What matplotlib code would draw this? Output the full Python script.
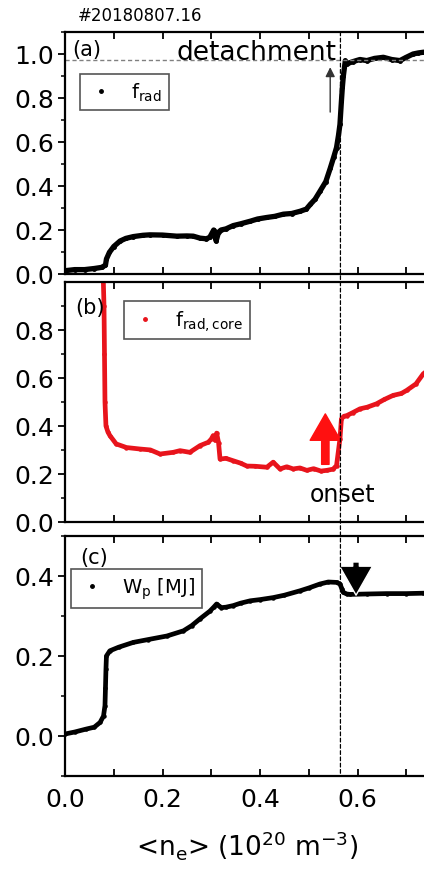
import numpy as np
import matplotlib.pyplot as plt
from matplotlib.lines import Line2D
from matplotlib.patches import ConnectionPatch
from matplotlib.ticker import MultipleLocator, FixedLocator

plt.rcParams['font.family'] = ['DejaVu Sans']

# panel (a): f_rad
xa = [0.0, 0.02, 0.04, 0.06, 0.075, 0.083, 0.085, 0.091, 0.10, 0.113, 0.125, 0.14, 0.16, 0.174,
      0.2, 0.229, 0.25, 0.263, 0.277, 0.29, 0.297, 0.305, 0.31, 0.315, 0.32, 0.33, 0.345, 0.36,
      0.38, 0.395, 0.414, 0.43, 0.448, 0.465, 0.482, 0.495, 0.503, 0.513, 0.523, 0.535, 0.544,
      0.551, 0.557, 0.561, 0.564, 0.567, 0.569, 0.571, 0.575, 0.578, 0.59, 0.605, 0.619, 0.635,
      0.653, 0.67, 0.687, 0.7, 0.714, 0.725, 0.735, 0.75]
ya = [0.015, 0.02, 0.02, 0.025, 0.03, 0.04, 0.068, 0.098, 0.125, 0.15, 0.162, 0.17, 0.176, 0.178,
      0.177, 0.172, 0.173, 0.172, 0.163, 0.16, 0.167, 0.2, 0.15, 0.19, 0.2, 0.205, 0.22, 0.228,
      0.24, 0.25, 0.257, 0.262, 0.272, 0.275, 0.285, 0.295, 0.316, 0.34, 0.376, 0.42, 0.48,
      0.53, 0.575, 0.63, 0.68, 0.785, 0.85, 0.9, 0.97, 0.955, 0.965, 0.975, 0.97, 0.98,
      0.985, 0.975, 0.97, 0.985, 1.0, 1.005, 1.008, 1.01]

# panel (b): f_rad,core
xb = [0.078, 0.080, 0.081, 0.082, 0.084, 0.088, 0.092, 0.105, 0.126, 0.153, 0.175, 0.195, 0.222,
      0.236, 0.256, 0.277, 0.294, 0.300, 0.304, 0.308, 0.311, 0.315, 0.318, 0.33, 0.345, 0.36,
      0.373, 0.39, 0.414, 0.427, 0.441, 0.455, 0.468, 0.482, 0.496, 0.51, 0.525, 0.537, 0.55,
      0.557, 0.564, 0.567, 0.572, 0.578, 0.59, 0.605, 0.62, 0.639, 0.655, 0.673, 0.69, 0.701,
      0.72, 0.735, 0.75]
yb = [1.05, 0.9, 0.7, 0.5, 0.4, 0.375, 0.36, 0.325, 0.31, 0.304, 0.3, 0.283, 0.29,
      0.297, 0.29, 0.318, 0.332, 0.345, 0.36, 0.34, 0.37, 0.33, 0.262, 0.265, 0.255, 0.245,
      0.233, 0.232, 0.228, 0.249, 0.221, 0.23, 0.221, 0.225, 0.215, 0.222, 0.212, 0.215, 0.22,
      0.235, 0.346, 0.429, 0.44, 0.443, 0.455, 0.471, 0.478, 0.492, 0.51, 0.527, 0.535, 0.548,
      0.575, 0.617, 0.64]

# panel (c): W_p [MJ]
xc = [0.0, 0.02, 0.044, 0.06, 0.072, 0.079, 0.082, 0.083, 0.084, 0.085, 0.092, 0.11, 0.14,
      0.17, 0.209, 0.243, 0.26, 0.277, 0.297, 0.305, 0.311, 0.316, 0.321, 0.33, 0.345, 0.36,
      0.38, 0.4, 0.427, 0.45, 0.482, 0.5, 0.523, 0.54, 0.557, 0.564, 0.568, 0.571, 0.578,
      0.585, 0.619, 0.66, 0.7, 0.735, 0.75]
yc = [0.005, 0.01, 0.0175, 0.022, 0.034, 0.05, 0.076, 0.12, 0.167, 0.2, 0.213, 0.222, 0.234,
      0.241, 0.25, 0.263, 0.276, 0.293, 0.312, 0.322, 0.33, 0.325, 0.321, 0.322, 0.326, 0.332,
      0.338, 0.341, 0.346, 0.352, 0.363, 0.37, 0.38, 0.385, 0.384, 0.38, 0.368, 0.359, 0.355,
      0.354, 0.355, 0.356, 0.356, 0.357, 0.357]

x_ticks = [0.0, 0.2, 0.4, 0.6]
x_det = 0.565

fig = plt.figure(figsize=(4.24, 8.70), dpi=100)
W = 390 / 424
axa = fig.add_axes([65 / 424, 1 - 275 / 870, W, 242 / 870])
axb = fig.add_axes([65 / 424, 1 - 523 / 870, W, 240 / 870])
axc = fig.add_axes([65 / 424, 1 - 777 / 870, W, 240 / 870])

axa.plot(xa, ya, color='black', lw=3.8, marker='o', ms=2.5)
axb.plot(xb, yb, color='#e8141c', lw=3.4, marker='o', ms=2.2)
axc.plot(xc, yc, color='black', lw=3.4, marker='o', ms=2.2)

axa.set_ylim(0, 1.1)
axb.set_ylim(0, 0.999)
axc.set_ylim(-0.1, 0.5)

for ax in (axa, axb, axc):
    ax.set_xlim(0, 0.8)
    ax.xaxis.set_major_locator(FixedLocator(x_ticks))
    ax.xaxis.set_minor_locator(FixedLocator([0.1, 0.3, 0.5, 0.7]))
    ax.yaxis.set_major_locator(MultipleLocator(0.2))
    ax.yaxis.set_minor_locator(MultipleLocator(0.1))
    ax.tick_params(axis='x', which='both', direction='in', top=True, bottom=True,
                   length=5, width=1.3, labelsize=18, pad=8)
    ax.tick_params(axis='y', which='major', direction='out', length=5, width=1.3,
                   labelsize=18, pad=3)
    ax.tick_params(axis='y', which='minor', direction='out', length=3, width=1.1)
    for s in ax.spines.values():
        s.set_linewidth(1.6)
axa.tick_params(axis='x', labelbottom=False)
axb.tick_params(axis='x', labelbottom=False)

axa.axhline(0.973, color='gray', ls='--', lw=1.0, dashes=(3, 2))

# vertical dashed line through all panels
con = ConnectionPatch(xyA=(x_det, 1.1), coordsA=axa.transData,
                      xyB=(x_det, -0.1), coordsB=axc.transData,
                      color='black', lw=0.9, ls=(0, (3, 2)))
fig.add_artist(con)

axa.text(0.018, 0.93, '(a)', transform=axa.transAxes, fontsize=15, va='center')
axb.text(0.026, 0.896, '(b)', transform=axb.transAxes, fontsize=15, va='center')
axc.text(0.04, 0.9125, '(c)', transform=axc.transAxes, fontsize=15, va='center')

axa.text(0.392, 1.01, 'detachment', fontsize=19, ha='center', va='center')
axb.text(0.57, 0.117, 'onset', fontsize=17, ha='center', va='center')

axa.annotate('', xy=(0.544, 0.94), xytext=(0.544, 0.736),
             arrowprops=dict(arrowstyle='-|>', color='#333333', lw=1.0,
                             mutation_scale=14, shrinkA=0, shrinkB=0))
axb.annotate('', xy=(0.534, 0.45), xytext=(0.534, 0.24),
             arrowprops=dict(arrowstyle='simple,head_length=1.0,head_width=1.15,tail_width=0.28',
                             color='#ff1010', mutation_scale=19, shrinkA=0, shrinkB=0))
axc.annotate('', xy=(0.597, 0.352), xytext=(0.597, 0.435),
             arrowprops=dict(arrowstyle='simple,head_length=1.1,head_width=1.25,tail_width=0.25',
                             fc='black', ec='white', lw=1.0, mutation_scale=19,
                             shrinkA=0, shrinkB=0))

leg_kw = dict(loc='upper left', borderaxespad=0, fancybox=False, framealpha=1,
              edgecolor='#555555', fontsize=14, handlelength=1.5, handletextpad=0.8,
              borderpad=0.35)
la = axa.legend([Line2D([], [], color='black', marker='o', ls='', ms=2.5)],
                [r'f$_{\rm rad}$'], bbox_to_anchor=(0.038, 0.826), **leg_kw)
lb = axb.legend([Line2D([], [], color='#e8141c', marker='o', ls='', ms=2.5)],
                [r'f$_{\rm rad,core}$'], bbox_to_anchor=(0.151, 0.921), **leg_kw)
lc = axc.legend([Line2D([], [], color='black', marker='o', ls='', ms=2.5)],
                [r'W$_{\rm p}$ [MJ]'], bbox_to_anchor=(0.015, 0.8625), **leg_kw)
for lg in (la, lb, lc):
    lg.get_frame().set_linewidth(1.2)

axc.set_xlabel(r'<n$_{\rm e}$> (10$^{20}$ m$^{-3}$)', fontsize=19)
axc.xaxis.set_label_coords(0.467, -0.215)

fig.text(78 / 424, 1 - 16 / 870, '#20180807.16', fontsize=12, va='center')

fig.savefig('out.png', dpi=100)
